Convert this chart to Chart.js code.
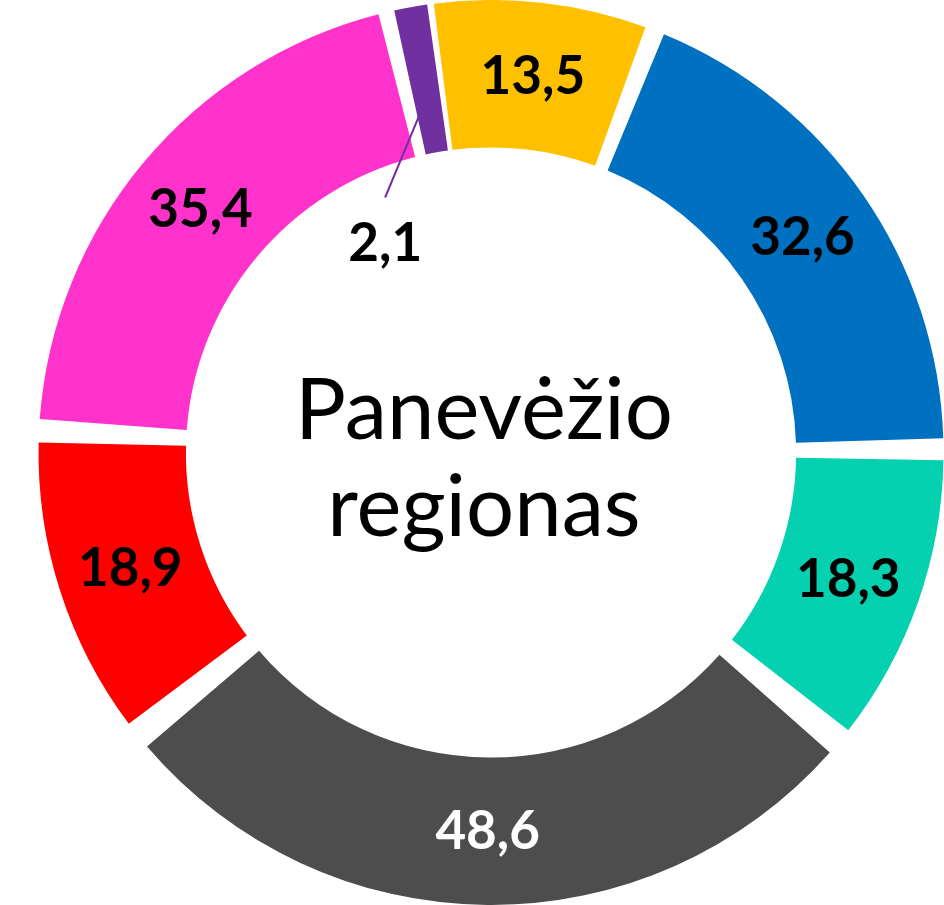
<!DOCTYPE html>
<html>
<head>
<meta charset="utf-8">
<script src="https://cdn.jsdelivr.net/npm/chart.js@4"></script>
<style>
  html, body { margin: 0; padding: 0; background: #fff; }
  #wrap { width: 944px; height: 905px; position: relative; }
</style>
</head>
<body>
<div id="wrap"><canvas id="myChart"></canvas></div>
<script>
const labels = ['Geltona', 'Mėlyna', 'Žalsva', 'Pilka', 'Raudona', 'Rožinė', 'Violetinė'];
const values = [13.5, 32.6, 18.3, 48.6, 18.9, 35.4, 2.1];
const colors = ['#FFC000', '#0070C0', '#05D1B1', '#4D4D4D', '#FF0000', '#FF33CC', '#7030A0'];
const labelColors = ['#000', '#000', '#000', '#fff', '#000', '#000', '#000'];
const centerText = ['Panevėžio', 'regionas'];

// index of the small slice whose label sits inside the hole with a leader line
const outsideIndex = 6;

const labelPlugin = {
  id: 'sliceLabels',
  afterDatasetsDraw(chart) {
    const ctx = chart.ctx;
    const meta = chart.getDatasetMeta(0);
    ctx.save();
    ctx.font = 'bold 53px Lato';
    ctx.textAlign = 'center';
    ctx.textBaseline = 'middle';
    meta.data.forEach(function(arc, i) {
      const txt = values[i].toFixed(1).replace('.', ',');
      const p = arc.getProps(['x', 'y', 'startAngle', 'endAngle', 'innerRadius', 'outerRadius'], true);
      const mid = (p.startAngle + p.endAngle) / 2;
      if (i === outsideIndex) {
        const r1 = p.innerRadius + 75;
        const r2 = p.innerRadius - 10;
        const a2 = mid - 0.215;
        ctx.strokeStyle = colors[i];
        ctx.lineWidth = 2;
        ctx.beginPath();
        ctx.moveTo(p.x + Math.cos(mid) * r1, p.y + Math.sin(mid) * r1);
        ctx.lineTo(p.x + Math.cos(a2) * r2, p.y + Math.sin(a2) * r2);
        ctx.stroke();
        const r3 = p.innerRadius - 52;
        const a3 = mid - 0.29;
        ctx.fillStyle = labelColors[i];
        ctx.fillText(txt, p.x + Math.cos(a3) * r3, p.y + Math.sin(a3) * r3);
      } else {
        const pos = arc.tooltipPosition(true);
        ctx.fillStyle = labelColors[i];
        ctx.fillText(txt, pos.x, pos.y + 1);
      }
    });
    // center title
    const c = meta.data[0];
    ctx.fillStyle = '#000';
    ctx.font = '85px Lato';
    ctx.fillText(centerText[0], c.x - 7, c.y - 41);
    ctx.fillText(centerText[1], c.x - 7, c.y + 56);
    ctx.restore();
  }
};

const ctx = document.getElementById('myChart');
const myChart = new Chart(ctx, {
  type: 'doughnut',
  data: {
    labels: labels,
    datasets: [{
      data: values,
      backgroundColor: colors,
      borderWidth: 0,
      spacing: 38
    }]
  },
  options: {
    responsive: true,
    maintainAspectRatio: false,
    animation: false,
    rotation: -8,
    cutout: '66%',
    layout: { padding: { left: 38, top: 0, right: 0, bottom: 0 } },
    plugins: {
      legend: { display: false },
      tooltip: { enabled: false }
    }
  },
  plugins: [labelPlugin]
});
</script>
</body>
</html>
